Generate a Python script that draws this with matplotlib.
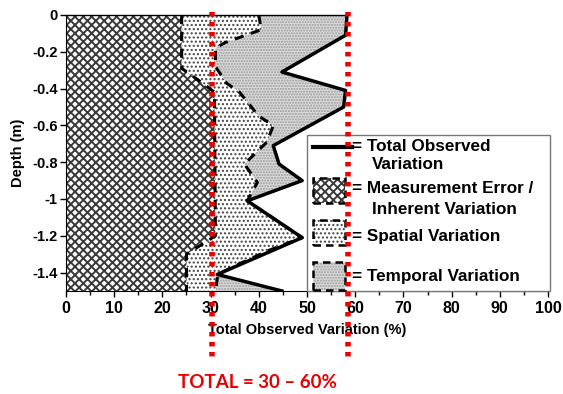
import numpy as np
import matplotlib
matplotlib.use("Agg")
from matplotlib import pyplot as plt
from matplotlib.patches import Rectangle

plt.rcParams['font.family'] = ['Liberation Sans', 'DejaVu Sans']
plt.rcParams['font.weight'] = 'bold'
plt.rcParams['hatch.linewidth'] = 1.0

# measurement error / inherent variation (right edge of crosshatch)
meas_depth = [0, 0.29, 0.37, 0.42, 1.2, 1.3, 1.5]
meas_val = [24, 24, 28.3, 30.8, 31, 25, 25]

# spatial variation (right edge of dotted area)
spat_depth = [0, 0.08, 0.15, 0.18, 0.28, 0.37, 0.42, 0.55, 0.6, 0.69, 0.81, 0.91,
              1.01, 1.21, 1.28, 1.37, 1.41, 1.5]
spat_val = [40, 40.5, 33, 31, 31, 33.3, 36, 40, 43, 41.7, 37, 39.7,
            37.6, 49, 42, 34.5, 31.5, 31]

# total observed variation (solid line)
tot_depth = [0, 0.11, 0.31, 0.41, 0.5, 0.71, 0.81, 0.9, 1.01, 1.21, 1.41, 1.5]
tot_val = [58.3, 58, 44.8, 58, 57.6, 43, 44.2, 49, 37.6, 49, 31.4, 44.8]

# red "TOTAL" range markers
range_lo = 30.3
range_hi = 58.5

x_ticks = np.arange(0, 101, 10)
y_ticks = [0, -0.2, -0.4, -0.6, -0.8, -1, -1.2, -1.4]
y_labels = ['0', '-0.2', '-0.4', '-0.6', '-0.8', '-1', '-1.2', '-1.4']

fig = plt.figure(figsize=(5.63, 3.94), dpi=100)
ax = fig.add_axes([0.1172, 0.2614, 0.8562, 0.7006])

md = -np.array(meas_depth)
sd = -np.array(spat_depth)
td = -np.array(tot_depth)

# hatch styles
temporal_style = dict(facecolor='#dadada', edgecolor='#9a9a9a', hatch='......')
spatial_style = dict(facecolor='white', edgecolor='#444444', hatch='....')
cross_style = dict(facecolor='white', edgecolor='#3a3a3a', hatch='xxxx')

# temporal (grey) fill first, others stacked on top
ax.fill_betweenx(td, 0, tot_val, linewidth=0, **temporal_style)
ax.fill_betweenx(sd, 0, spat_val, linewidth=0, **spatial_style)
with plt.rc_context({'hatch.linewidth': 1.4}):
    ax.fill_betweenx(md, 0, meas_val, linewidth=0, **cross_style)

ax.plot(meas_val, md, color='black', lw=2.2, ls=(0, (3, 2.5)))
ax.plot(spat_val, sd, color='black', lw=2.2, ls=(0, (3, 2.5)))
ax.plot(tot_val, td, color='black', lw=2.5)
ax.plot([0, tot_val[0]], [0, 0], color='black', lw=1, clip_on=False)

ax.set_xlim(0, 100)
ax.set_ylim(-1.5, 0)
ax.set_xticks(x_ticks)
ax.set_xticks(np.arange(5, 100, 10), minor=True)
ax.set_yticks(y_ticks)
ax.set_yticklabels(y_labels)
ax.tick_params(axis='x', labelsize=11.5, length=4, width=1, pad=3)
ax.tick_params(axis='x', which='minor', length=3, width=1)
ax.tick_params(axis='y', labelsize=10.5, length=4, width=1, pad=2)
for lab in ax.get_xticklabels() + ax.get_yticklabels():
    lab.set_fontweight('bold')
ax.spines['top'].set_visible(False)
ax.spines['right'].set_visible(False)
ax.set_xlabel('Total Observed Variation (%)', fontsize=10.5, fontweight='bold',
              labelpad=5)
ax.set_ylabel('Depth (m)', fontsize=10.5, fontweight='bold', labelpad=5)

# legend drawn by hand
tr = ax.transAxes
ax.add_patch(Rectangle((0.5, 0.0), 0.504, 0.565, transform=tr, facecolor='white',
                       edgecolor='#777777', lw=1, clip_on=False, zorder=5))
ax.plot([0.512, 0.593], [0.522, 0.522], transform=tr, color='black', lw=3,
        clip_on=False, zorder=6)
ax.add_patch(Rectangle((0.512, 0.167), 0.067, 0.09, transform=tr, lw=0,
                       clip_on=False, zorder=6, **spatial_style))
ax.add_patch(Rectangle((0.512, 0.004), 0.067, 0.1, transform=tr, lw=0,
                       clip_on=False, zorder=6, **temporal_style))
with plt.rc_context({'hatch.linewidth': 1.4}):
    ax.add_patch(Rectangle((0.512, 0.319), 0.067, 0.09, transform=tr, lw=0,
                           clip_on=False, zorder=6, **cross_style))
for yb, h in [(0.319, 0.09), (0.167, 0.09), (0.004, 0.1)]:
    ax.add_patch(Rectangle((0.512, yb), 0.067, h, transform=tr, fill=False,
                           edgecolor='black', lw=1.8, ls=(0, (3, 2)),
                           clip_on=False, zorder=7))

fs = 12.3
ax.text(0.593, 0.522, '= Total Observed', transform=tr, fontsize=fs,
        fontweight='bold', va='center', zorder=8)
ax.text(0.635, 0.46, 'Variation', transform=tr, fontsize=fs,
        fontweight='bold', va='center', zorder=8)
ax.text(0.593, 0.373, '= Measurement Error /', transform=tr, fontsize=fs,
        fontweight='bold', va='center', zorder=8)
ax.text(0.635, 0.297, 'Inherent Variation', transform=tr, fontsize=fs,
        fontweight='bold', va='center', zorder=8)
ax.text(0.593, 0.196, '= Spatial Variation', transform=tr, fontsize=fs,
        fontweight='bold', va='center', zorder=8)
ax.text(0.593, 0.054, '= Temporal Variation', transform=tr, fontsize=fs,
        fontweight='bold', va='center', zorder=8)

# red range markers
for xv in [range_lo, range_hi]:
    ax.plot([xv, xv], [0.016, -1.87], color='#ee0000', lw=4, ls=(0, (0.8, 1.0)),
            clip_on=False, zorder=10)
fig.text(257 / 563, 1 - 382 / 394, 'TOTAL = 30 \u2013 60%', color='#e60000',
         fontsize=13.5, fontweight='bold', family=['Lato', 'DejaVu Sans'],
         ha='center', va='center')

fig.savefig('out.png', dpi=100)
